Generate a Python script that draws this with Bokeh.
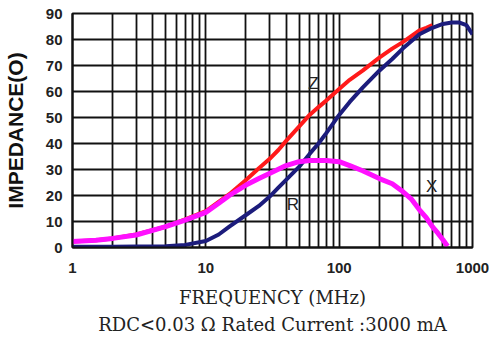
from bokeh.plotting import figure
from bokeh.models import FixedTicker, Title, PrintfTickFormatter, ColumnDataSource
from bokeh.core.properties import value
from bokeh.embed import file_html
from bokeh.resources import INLINE

# ---- data ----
freq_z = [1, 1.5, 2, 3, 5, 7, 10, 15, 20, 25, 30, 35, 40, 50, 60, 70, 80, 100, 120, 150, 200, 250, 300, 400, 450, 500]
z_vals = [2.3, 2.8, 3.5, 5.0, 8.0, 10.8, 14.0, 20.5, 26.0, 30.5, 34.0, 37.5, 41.0, 46.5, 51.0, 54.0, 56.5, 61.0, 64.5, 68.0, 73.0, 76.5, 79.0, 83.5, 84.5, 85.5]

freq_r = [1, 2, 3, 5, 7, 10, 12.5, 15, 20, 25, 30, 35, 40, 50, 60, 70, 80, 100, 120, 150, 200, 250, 300, 400, 500, 600, 700, 800, 900, 1000]
r_vals = [0.3, 0.3, 0.4, 0.5, 1.0, 2.5, 5.0, 8.0, 12.5, 16.0, 19.5, 23.0, 26.0, 31.0, 36.0, 40.0, 44.0, 51.0, 56.0, 61.5, 68.0, 72.5, 76.5, 82.0, 84.5, 86.0, 86.5, 86.5, 85.5, 82.0]

freq_x = [1, 1.5, 2, 3, 5, 7, 10, 12.5, 15, 20, 25, 30, 40, 50, 60, 80, 100, 120, 150, 200, 250, 300, 350, 400, 450, 500, 550, 600, 650]
x_vals = [2.3, 2.8, 3.5, 4.8, 8.0, 10.5, 13.5, 17.0, 20.0, 24.0, 26.5, 28.5, 31.5, 33.0, 33.5, 33.5, 33.0, 31.5, 29.5, 26.5, 24.5, 21.5, 18.5, 14.5, 11.5, 8.0, 5.5, 3.0, 0.5]

label_text = ["Z", "R", "X"]
label_freq = [64, 45, 495]
label_val = [63, 16.5, 23.5]

x_ticks = [1, 10, 100, 1000]
y_ticks = [0, 10, 20, 30, 40, 50, 60, 70, 80, 90]
x_grid = [m * 10 ** k for k in range(3) for m in range(1, 10)] + [1000]

x_title = "FREQUENCY (MHz)"
y_title = "IMPEDANCE(O)"
note = "RDC<0.03 \u03a9 Rated Current :3000 mA"

p = figure(frame_width=400, frame_height=234, x_axis_type="log",
           x_range=(1, 1000), y_range=(0, 90),
           output_backend="svg", toolbar_location=None,
           min_border_left=72, min_border_right=17, min_border_top=13, min_border_bottom=0,
           background_fill_color="white", border_fill_color="white")

p.outline_line_color = "#111111"
p.outline_line_width = 2

# grid
p.xgrid.ticker = FixedTicker(ticks=x_grid)
p.ygrid.ticker = FixedTicker(ticks=y_ticks)
p.grid.grid_line_color = "#111111"
p.grid.grid_line_width = 1.8
p.grid.grid_line_alpha = 1.0

# axes
p.xaxis.ticker = FixedTicker(ticks=x_ticks)
p.yaxis.ticker = FixedTicker(ticks=y_ticks)
p.xaxis.formatter = PrintfTickFormatter(format="%d")
p.yaxis.formatter = PrintfTickFormatter(format="%d")
for ax in (p.xaxis, p.yaxis):
    ax.major_tick_out = 0
    ax.major_tick_in = 0
    ax.minor_tick_out = 0
    ax.minor_tick_in = 0
    ax.axis_line_color = "#111111"
    ax.axis_line_width = 2
    ax.major_label_text_font = "Liberation Sans"
    ax.major_label_text_font_style = "bold"
    ax.major_label_text_font_size = "15px"
    ax.major_label_text_color = "#222222"

p.yaxis.major_label_standoff = 10
p.xaxis.major_label_standoff = 15

p.yaxis.axis_label = y_title
p.yaxis.axis_label_text_font = "Liberation Sans"
p.yaxis.axis_label_text_font_style = "bold"
p.yaxis.axis_label_text_font_size = "21px"
p.yaxis.axis_label_text_color = "#111111"
p.yaxis.axis_label_standoff = 16

p.xaxis.axis_label = x_title
p.xaxis.axis_label_text_font = "DejaVu Serif"
p.xaxis.axis_label_text_font_style = "normal"
p.xaxis.axis_label_text_font_size = "18px"
p.xaxis.axis_label_text_color = "#222222"
p.xaxis.axis_label_standoff = 11

p.add_layout(Title(text=note, align="center", text_font="DejaVu Serif",
                   text_font_style="normal", text_font_size="18px",
                   text_color="#222222", standoff=3), "below")

# curves
p.line(freq_z, z_vals, line_color="#FF1A1A", line_width=4)
p.line(freq_r, r_vals, line_color="#1C1C7C", line_width=4)
p.line(freq_x, x_vals, line_color="#FF10FF", line_width=5)

src = ColumnDataSource(dict(f=label_freq, v=label_val, t=label_text))
p.text(x="f", y="v", text="t", source=src, text_align="center", text_baseline="middle",
       text_font=value("Liberation Sans"), text_font_size="17px", text_color="#222222")

open("out.html", "w").write(file_html(p, INLINE))
